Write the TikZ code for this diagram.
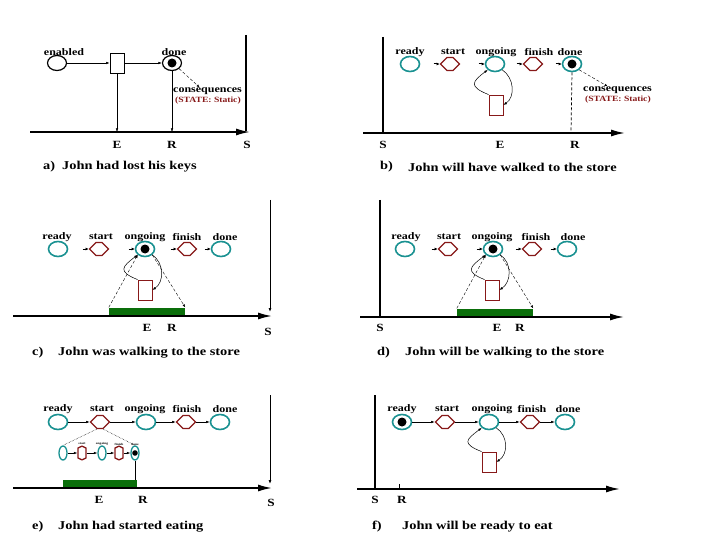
\documentclass[tikz,border=0pt]{standalone}
\usepackage{fontspec}
\setmainfont{Liberation Serif}[FakeStretch=1.2]
\usetikzlibrary{shapes.geometric,shapes.symbols,arrows.meta,calc}
\definecolor{tealc}{RGB}{25,145,145}
\definecolor{hexred}{RGB}{135,25,25}
\definecolor{barg}{RGB}{10,110,10}
\begin{document}
\begin{tikzpicture}[x=1pt,y=-1pt,
 lbl/.style={font=\bfseries\fontsize{10}{10}\selectfont, inner sep=0pt},
 tiny/.style={font=\bfseries\fontsize{3}{3}\selectfont, inner sep=0pt},
 ax/.style={font=\bfseries\fontsize{11}{11}\selectfont, inner sep=0pt},
 capl/.style={font=\bfseries\fontsize{12}{12}\selectfont, inner sep=0pt, anchor=west},
 cons/.style={font=\bfseries\fontsize{10}{10}\selectfont, inner sep=0pt, anchor=west},
 stat/.style={font=\bfseries\fontsize{8}{8}\selectfont, text=hexred, inner sep=0pt, anchor=west},
 place/.style={ellipse, draw=tealc, line width=1.6pt, minimum width=19pt, minimum height=15pt, inner sep=0pt},
 bplace/.style={place, draw=black, line width=1.2pt},
 splace/.style={ellipse, draw=tealc, line width=1.3pt, minimum width=8pt, minimum height=14pt, inner sep=0pt},
 trans/.style={signal, signal to=west and east, draw=hexred, line width=1.2pt, minimum width=19pt, minimum height=13pt, inner sep=0pt},
 strans/.style={signal, signal to=north and south, signal pointer angle=130, draw=hexred, line width=1.3pt, minimum width=8pt, minimum height=10pt, inner sep=0pt},
 act/.style={rectangle, draw=hexred, line width=0.8pt, minimum width=14pt, minimum height=20pt, inner sep=0pt},
 bact/.style={act, draw=black},
 tok/.style={path picture={\fill[black] (path picture bounding box.center) circle (#1);}}, tok/.default=4.5pt,
 arr/.style={-{Latex[length=3.5pt,width=2.5pt]}, line width=0.5pt},
 stub/.style={-{Latex[length=3pt,width=3pt]}, line width=1pt},
 tline/.style={line width=1.6pt, -{Latex[length=14pt,width=7pt]}},
 vbar/.style={line width=1.8pt},
 vthin/.style={line width=0.8pt, -{Latex[length=4pt,width=3pt]}},
 dl/.style={densely dashed, line width=0.4pt, -{Latex[length=3pt,width=2.5pt]}},
 dt/.style={densely dotted, line width=0.5pt},
 gbar/.style={rectangle, fill=barg, minimum width=#1, minimum height=9pt, inner sep=0pt},
]
\useasboundingbox (0,0) rectangle (720,540);

% ================= panel a
\node[lbl] (aenl) at (64,52) {enabled};
\node[bplace] (aen) at (57,63) {};
\node[bact] (abx) at (117,63) {};
\node[lbl] (adnl) at (174,52) {done};
\node[bplace, tok] (adn) at (172,63) {};
\draw[arr] (aen) -- (abx);
\draw[arr] (abx) -- (adn);
\node[cons] (acons) at (173,91) {consequences};
\node[stat] (ast) at (175,101) {(STATE: Static)};
\draw[dl] (adn.south east) -- ([xshift=-8pt]acons.north);
\coordinate (aE) at (117,132);
\coordinate (aR) at (172,132);
\draw[arr] (abx.south) -- (aE);
\draw[arr] (adn.south) -- (aR);
\coordinate (at0) at (30,132);
\coordinate (at1) at (250,132);
\draw[tline] (at0) -- (at1);
\coordinate (av0) at (246,35);
\coordinate (av1) at (246,131);
\draw[vbar] (av0) -- (av1);
\node[ax] (aEl) at (117,145) {E};
\node[ax] (aRl) at (172,145) {R};
\node[ax] (aSl) at (247,145) {S};
\node[capl] (acap) at (43,167) {a)};
\node[capl] (acapt) at (62,167) {John had lost his keys};

% ================= panel b
\node[lbl] (brdl) at (410,52) {ready};
\node[lbl] (bstl) at (453,52) {start};
\node[lbl] (bogl) at (496,52) {ongoing};
\node[lbl] (bfil) at (539,52) {finish};
\node[lbl] (bdnl) at (570,52) {done};
\node[place] (brd) at (410,64) {};
\node[trans] (bst) at (450,64) {};
\node[place] (bog) at (495,64) {};
\node[trans] (bfi) at (533,64) {};
\node[place, tok] (bdn) at (572,64) {};
\draw[stub] ([xshift=-6pt]bst.west) -- (bst.west);
\draw[stub] ([xshift=-6pt]bog.west) -- (bog.west);
\draw[stub] ([xshift=-6pt]bfi.west) -- (bfi.west);
\draw[stub] ([xshift=-6pt]bdn.west) -- (bdn.west);
\node[act] (bbx) at (496,105) {};
\draw[arr] (bbx.north west) .. controls ($(bbx.north west)+(-20,-8)$) and ($(bog.south west)+(-16,12)$) .. (bog.south west);
\draw[arr] (bog.south east) .. controls ($(bog.south east)+(12,8)$) and ($(bbx.east)+(12,-8)$) .. (bbx.east);
\node[cons] (bcons) at (583,90) {consequences};
\node[stat] (bst2) at (585,100) {(STATE: Static)};
\draw[dl] (bdn.south east) -- ([xshift=-10pt]bcons.north);
\coordinate (bR) at (571,133);
\draw[densely dashed, line width=0.7pt] (bdn.south) -- (bR);
\coordinate (bt0) at (363,133);
\coordinate (bt1) at (625,133);
\draw[tline] (bt0) -- (bt1);
\coordinate (bv0) at (383,37);
\coordinate (bv1) at (383,132);
\draw[vbar] (bv0) -- (bv1);
\node[ax] (bSl) at (383,145) {S};
\node[ax] (bEl) at (500,145) {E};
\node[ax] (bRl) at (575,145) {R};
\node[capl] (bcap) at (380,167) {b)};
\node[capl] (bcapt) at (408,167) {John will have walked to the store};

% ================= panel c
\node[lbl] (crdl) at (57,237) {ready};
\node[lbl] (cstl) at (101,237) {start};
\node[lbl] (cogl) at (145,237) {ongoing};
\node[lbl] (cfil) at (187,237) {finish};
\node[lbl] (cdnl) at (225,237) {done};
\node[place] (crd) at (58,249) {};
\node[trans] (cst) at (99,249) {};
\node[place, tok] (cog) at (145,249) {};
\node[trans] (cfi) at (187,249) {};
\node[place] (cdn) at (221,249) {};
\draw[stub] ([xshift=-6pt]cst.west) -- (cst.west);
\draw[stub] ([xshift=-6pt]cog.west) -- (cog.west);
\draw[stub] ([xshift=-6pt]cfi.west) -- (cfi.west);
\draw[stub] ([xshift=-6pt]cdn.west) -- (cdn.west);
\node[act] (cbx) at (145,290) {};
\draw[arr] (cbx.north west) .. controls ($(cbx.north west)+(-20,-8)$) and ($(cog.south west)+(-16,12)$) .. (cog.south west);
\draw[arr] (cog.south east) .. controls ($(cog.south east)+(12,8)$) and ($(cbx.east)+(12,-8)$) .. (cbx.east);
\node[gbar=76pt] (cbar) at (147,312) {};
\draw[dl] (cbar.north west) -- (cog.south west);
\draw[dl] (cog.south east) -- (cbar.north east);
\coordinate (ct0) at (13,316);
\coordinate (ct1) at (272,316);
\draw[tline] (ct0) -- (ct1);
\coordinate (cv0) at (270,200);
\coordinate (cv1) at (270,312);
\draw[vthin] (cv0) -- (cv1);
\node[ax] (cEl) at (147,328) {E};
\node[ax] (cRl) at (172,328) {R};
\node[ax] (cSl) at (268,332) {S};
\node[capl] (ccap) at (32,353) {c)};
\node[capl] (ccapt) at (58,353) {John was walking to the store};

% ================= panel d
\node[lbl] (drdl) at (406,237) {ready};
\node[lbl] (dstl) at (449,237) {start};
\node[lbl] (dogl) at (492,237) {ongoing};
\node[lbl] (dfil) at (536,237) {finish};
\node[lbl] (ddnl) at (573,237) {done};
\node[place] (drd) at (405,249) {};
\node[trans] (dst) at (448,249) {};
\node[place, tok] (dog) at (493,249) {};
\node[trans] (dfi) at (532,249) {};
\node[place] (ddn) at (567,249) {};
\draw[stub] ([xshift=-6pt]dst.west) -- (dst.west);
\draw[stub] ([xshift=-6pt]dog.west) -- (dog.west);
\draw[stub] ([xshift=-6pt]dfi.west) -- (dfi.west);
\draw[stub] ([xshift=-6pt]ddn.west) -- (ddn.west);
\node[act] (dbx) at (492,290) {};
\draw[arr] (dbx.north west) .. controls ($(dbx.north west)+(-20,-8)$) and ($(dog.south west)+(-16,12)$) .. (dog.south west);
\draw[arr] (dog.south east) .. controls ($(dog.south east)+(12,8)$) and ($(dbx.east)+(12,-8)$) .. (dbx.east);
\node[gbar=76pt] (dbar) at (495,313) {};
\draw[dl] (dbar.north west) -- (dog.south west);
\draw[dl] (dog.south east) -- (dbar.north east);
\coordinate (dt0) at (360,317);
\coordinate (dt1) at (624,317);
\draw[tline] (dt0) -- (dt1);
\coordinate (dv0) at (380,200);
\coordinate (dv1) at (380,316);
\draw[vbar] (dv0) -- (dv1);
\node[ax] (dSl) at (380,328) {S};
\node[ax] (dEl) at (497,328) {E};
\node[ax] (dRl) at (520,328) {R};
\node[capl] (dcap) at (377,353) {d)};
\node[capl] (dcapt) at (405,353) {John will be walking to the store};

% ================= panel e
\node[lbl] (erdl) at (58,409) {ready};
\node[lbl] (estl) at (102,409) {start};
\node[lbl] (eogl) at (145,409) {ongoing};
\node[lbl] (efil) at (187,409) {finish};
\node[lbl] (ednl) at (225,409) {done};
\node[place] (erd) at (58,422) {};
\node[trans] (est) at (100,422) {};
\node[place] (eog) at (146,422) {};
\node[trans] (efi) at (186,422) {};
\node[place] (edn) at (220,422) {};
\draw[arr] (erd) -- (est);
\draw[arr] (est) -- (eog);
\draw[arr] (eog) -- (efi);
\draw[arr] (efi) -- (edn);
\node[splace] (es1) at (63,453) {};
\node[strans] (es2) at (82,453) {};
\node[splace] (es3) at (102,453) {};
\node[strans] (es4) at (119,453) {};
\node[splace, tok=2.8pt] (es5) at (135,453) {};
\draw[arr] (es1) -- (es2);
\draw[arr] (es2) -- (es3);
\draw[arr] (es3) -- (es4);
\draw[arr] (es4) -- (es5);
\node[tiny] (es2l) at (82,444) {start};
\node[tiny] (es3l) at (102,444) {ongoing};
\node[tiny] (es4l) at (119,444) {finish};
\node[tiny] (es5l) at (135,444) {done};
\draw[dt] (est.south west) -- (es1.north);
\draw[dt] (est.south east) -- (es5.north);
\coordinate (eR) at (135,488);
\draw[line width=0.8pt] (es5.south) -- (eR);
\node[gbar=74pt] (ebar) at (100,484) {};
\coordinate (et0) at (13,488);
\coordinate (et1) at (272,488);
\draw[tline] (et0) -- (et1);
\coordinate (ev0) at (270,395);
\coordinate (ev1) at (270,484);
\draw[vthin] (ev0) -- (ev1);
\node[ax] (eEl) at (99,500) {E};
\node[ax] (eRl) at (143,500) {R};
\node[ax] (eSl) at (271,503) {S};
\node[capl] (ecap) at (32,527) {e)};
\node[capl] (ecapt) at (58,527) {John had started eating};

% ================= panel f
\node[lbl] (frdl) at (402,409) {ready};
\node[lbl] (fstl) at (447,409) {start};
\node[lbl] (fogl) at (492,409) {ongoing};
\node[lbl] (ffil) at (532,409) {finish};
\node[lbl] (fdnl) at (568,409) {done};
\node[place, tok] (frd) at (402,422) {};
\node[trans] (fst) at (445,422) {};
\node[place] (fog) at (489,422) {};
\node[trans] (ffi) at (530,422) {};
\node[place] (fdn) at (565,422) {};
\draw[arr] (frd) -- (fst);
\draw[arr] (fst) -- (fog);
\draw[arr] (fog) -- (ffi);
\draw[arr] (ffi) -- (fdn);
\node[act] (fbx) at (489,462) {};
\draw[arr] (fbx.north west) .. controls ($(fbx.north west)+(-20,-8)$) and ($(fog.south west)+(-16,12)$) .. (fog.south west);
\draw[arr] (fog.south east) .. controls ($(fog.south east)+(12,8)$) and ($(fbx.east)+(12,-8)$) .. (fbx.east);
\coordinate (ft0) at (357,489);
\coordinate (ft1) at (620,489);
\draw[tline] (ft0) -- (ft1);
\coordinate (fv0) at (375,395);
\coordinate (fv1) at (375,488);
\draw[vbar] (fv0) -- (fv1);
\coordinate (fRt) at (399,484);
\coordinate (fR) at (399,489);
\draw[line width=0.8pt] (fRt) -- (fR);
\node[ax] (fSl) at (375,500) {S};
\node[ax] (fRl) at (402,500) {R};
\node[capl] (fcap) at (372,527) {f)};
\node[capl] (fcapt) at (402,527) {John will be ready to eat};
\end{tikzpicture}
\end{document}
